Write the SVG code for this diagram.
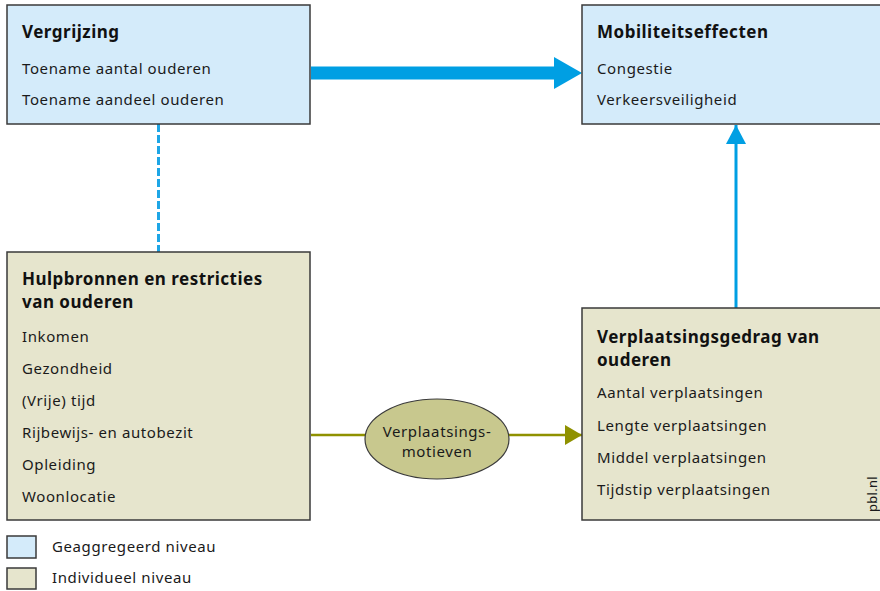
<svg xmlns="http://www.w3.org/2000/svg" width="880" height="591" viewBox="0 0 880 591">
<style>
  .agg { fill: #d4ebfa; stroke: #3a3a3a; stroke-width: 1.5; }
  .ind { fill: #e6e5cd; stroke: #3a3a3a; stroke-width: 1.5; }
  .t { font-family: "Noto Sans", "Open Sans", sans-serif; font-size: 15px; letter-spacing: 0.6px; fill: #1a1a1a; }
  .h { font-family: "Noto Sans", "Open Sans", sans-serif; font-size: 17px; font-weight: bold; letter-spacing: 0.5px; fill: #111; }
</style>
<defs>
  <marker id="olive" markerUnits="userSpaceOnUse" markerWidth="18" markerHeight="20" refX="17" refY="10" orient="auto">
    <path d="M0,0 L17,10 L0,20 Z" fill="#8f9100"/>
  </marker>
  <marker id="blue" markerUnits="userSpaceOnUse" markerWidth="20" markerHeight="20" refX="19" refY="10" orient="auto">
    <path d="M0,0 L19,10 L0,20 Z" fill="#009fe3"/>
  </marker>
</defs>
<rect width="880" height="591" fill="#ffffff"/>

<g id="connectors">
  <path d="M311,73 H556" stroke="#009fe3" stroke-width="13" fill="none"/>
  <path d="M554,57 L582,73 L554,89 Z" fill="#009fe3"/>
  <path d="M158.5,124 V252" stroke="#1ea6e6" stroke-width="3" stroke-dasharray="8,3" fill="none"/>
  <path d="M736,308 V125" stroke="#009fe3" stroke-width="3" fill="none" marker-end="url(#blue)"/>
  <path d="M311,435 H365" stroke="#8f9100" stroke-width="2.5" fill="none"/>
  <path d="M509,435 H582" stroke="#8f9100" stroke-width="2.5" fill="none" marker-end="url(#olive)"/>
</g>

<g id="vergrijzing">
  <rect class="agg" x="7" y="5" width="303" height="119"/>
  <text class="h" x="22" y="38">Vergrijzing</text>
  <text class="t" x="22" y="74">Toename aantal ouderen</text>
  <text class="t" x="22" y="105">Toename aandeel ouderen</text>
</g>

<g id="mobiliteitseffecten">
  <rect class="agg" x="582" y="5" width="300" height="119"/>
  <text class="h" x="597" y="38">Mobiliteitseffecten</text>
  <text class="t" x="597" y="74">Congestie</text>
  <text class="t" x="597" y="105">Verkeersveiligheid</text>
</g>

<g id="hulpbronnen">
  <rect class="ind" x="7" y="252" width="303" height="268"/>
  <text class="h" x="22" y="285">Hulpbronnen en restricties</text>
  <text class="h" x="22" y="308">van ouderen</text>
  <text class="t" x="22" y="342">Inkomen</text>
  <text class="t" x="22" y="374">Gezondheid</text>
  <text class="t" x="22" y="406">(Vrije) tijd</text>
  <text class="t" x="22" y="438">Rijbewijs- en autobezit</text>
  <text class="t" x="22" y="470">Opleiding</text>
  <text class="t" x="22" y="502">Woonlocatie</text>
</g>

<g id="motieven">
  <ellipse cx="437" cy="439" rx="72" ry="40" fill="#c8c88e" stroke="#3a3a3a" stroke-width="1.2"/>
  <text class="t" x="437" y="437" text-anchor="middle">Verplaatsings-</text>
  <text class="t" x="437" y="457" text-anchor="middle">motieven</text>
</g>

<g id="verplaatsingsgedrag">
  <rect class="ind" x="582" y="308" width="300" height="212"/>
  <text class="h" x="597" y="343">Verplaatsingsgedrag van</text>
  <text class="h" x="597" y="366">ouderen</text>
  <text class="t" x="597" y="398">Aantal verplaatsingen</text>
  <text class="t" x="597" y="431">Lengte verplaatsingen</text>
  <text class="t" x="597" y="463">Middel verplaatsingen</text>
  <text class="t" x="597" y="495">Tijdstip verplaatsingen</text>
  <text class="t" x="0" y="0" transform="translate(877,512) rotate(-90)" style="font-size:13px;letter-spacing:0.3px">pbl.nl</text>
</g>

<g id="legend">
  <rect class="agg" x="7" y="536" width="29" height="22"/>
  <text class="t" x="52" y="552">Geaggregeerd niveau</text>
  <rect class="ind" x="7" y="568" width="29" height="21"/>
  <text class="t" x="52" y="583">Individueel niveau</text>
</g>
</svg>
